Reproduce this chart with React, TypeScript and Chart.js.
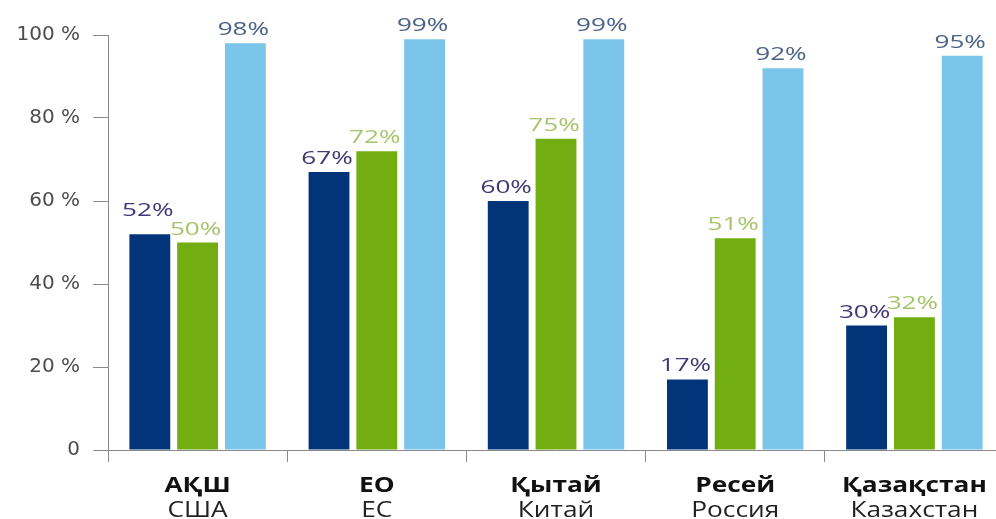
import React, { useEffect, useRef } from "react";
import { Chart, registerables } from "chart.js";

Chart.register(...registerables);

const categoriesKk = ["АҚШ", "ЕО", "Қытай", "Ресей", "Қазақстан"];
const categoriesRu = ["США", "ЕС", "Китай", "Россия", "Казахстан"];
const seriesDark = [52, 67, 60, 17, 30];
const seriesGreen = [50, 72, 75, 51, 32];
const seriesLight = [98, 99, 99, 92, 95];
const yTicks = [0, 20, 40, 60, 80, 100];

const barColors = ["#02347a", "#72ad12", "#7cc5ea"];
const labelColors = ["#3c3a74", "#a6c46c", "#4a6386"];
const DATA_STRETCH = 1.45;
const AXIS_STRETCH = 1.25;

// extra vertical lift (px) for labels that would crowd a neighbour
const labelLift = (di: number, i: number) => (di === 0 && i === 0 ? 10 : 0);

const dataLabelPlugin = {
  id: "dataLabels",
  afterDatasetsDraw(chart: any) {
    const ctx = chart.ctx;
    chart.data.datasets.forEach((ds: any, di: number) => {
      const meta = chart.getDatasetMeta(di);
      meta.data.forEach((bar: any, i: number) => {
        const text = ds.data[i] + "%";
        ctx.save();
        ctx.translate(bar.x - 2, bar.y - 8 - labelLift(di, i));
        ctx.scale(DATA_STRETCH, 1);
        ctx.font = "18px 'Open Sans'";
        ctx.fillStyle = labelColors[di];
        ctx.textAlign = "center";
        ctx.textBaseline = "alphabetic";
        ctx.fillText(text, 0, 0);
        ctx.restore();
      });
    });
  },
};

const xLabelPlugin = {
  id: "xLabels",
  afterDraw(chart: any) {
    const ctx = chart.ctx;
    const xs = chart.scales.x;
    const base = xs.top;
    categoriesKk.forEach((kk, i) => {
      const x = xs.getPixelForValue(i);
      ctx.save();
      ctx.translate(x, base + 42);
      ctx.scale(AXIS_STRETCH, 1);
      ctx.textAlign = "center";
      ctx.textBaseline = "alphabetic";
      ctx.font = "bold 21px 'Open Sans'";
      ctx.fillStyle = "#111111";
      ctx.fillText(kk, 0, 0);
      ctx.font = "21px 'Open Sans'";
      ctx.fillStyle = "#222222";
      ctx.fillText(categoriesRu[i], 0, 25);
      ctx.restore();
    });
  },
};

export default function App() {
  const ref = useRef<HTMLCanvasElement>(null);

  useEffect(() => {
    if (!ref.current) return;
    const chart = new Chart(ref.current, {
      type: "bar",
      data: {
        labels: categoriesKk,
        datasets: [seriesDark, seriesGreen, seriesLight].map((d, k) => ({
          data: d,
          backgroundColor: barColors[k],
          borderWidth: 0,
          categoryPercentage: 0.8,
          barPercentage: 0.855,
        })),
      },
      options: {
        responsive: false,
        animation: false,
        layout: { padding: { top: 35, right: 6, left: 0, bottom: 0 } },
        plugins: {
          legend: { display: false },
          tooltip: { enabled: false },
        },
        scales: {
          x: {
            offset: true,
            grid: {
              offset: true,
              drawOnChartArea: false,
              drawTicks: true,
              tickLength: 12,
              color: "#8a8a8a",
              lineWidth: 1,
            },
            border: { display: true, color: "#8a8a8a", width: 1 },
            ticks: { display: false },
            afterFit: (s: any) => {
              s.height = 69;
            },
          },
          y: {
            min: 0,
            max: 100,
            afterBuildTicks: (s: any) => {
              s.ticks = yTicks.map((v) => ({ value: v }));
            },
            grid: {
              drawOnChartArea: false,
              drawTicks: true,
              tickLength: 15,
              color: "#8a8a8a",
              lineWidth: 1,
            },
            border: { display: true, color: "#8a8a8a", width: 1 },
            ticks: {
              padding: 13,
              color: "#4d4d4d",
              font: { family: "'DejaVu Sans'", size: 20 },
              callback: (v: any) => (v === 0 ? "0" : v + " %"),
            },
            afterFit: (s: any) => {
              s.width = 108;
            },
          },
        },
      },
      plugins: [dataLabelPlugin, xLabelPlugin],
    });
    return () => chart.destroy();
  }, []);

  return (
    <div
      style={{
        position: "absolute",
        left: 0,
        top: 0,
        width: 996,
        height: 519,
        overflow: "hidden",
        background: "#ffffff",
      }}
    >
      <canvas ref={ref} width={1010} height={519} style={{ display: "block" }} />
    </div>
  );
}
